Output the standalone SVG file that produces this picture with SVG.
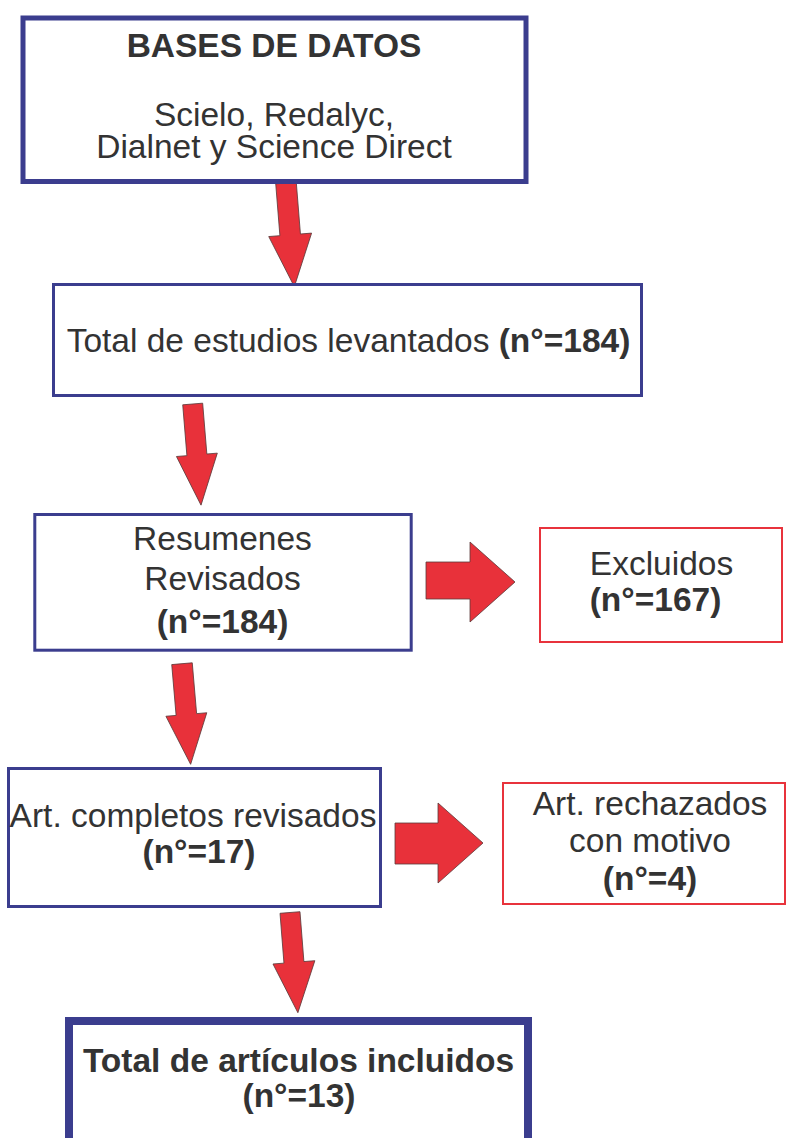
<svg xmlns="http://www.w3.org/2000/svg" width="787" height="1138" viewBox="0 0 787 1138">
<style>
.box{fill:#fff;stroke:#3b3d8e}
.rbox{fill:#fff;stroke:#e8333c;stroke-width:2}
.t{font-family:"Liberation Sans",Arial,sans-serif;font-size:33.5px;fill:#333;text-anchor:middle}
.b{font-weight:bold}
.arrow{fill:#e8313a;stroke:#5a3a3a;stroke-width:0.8;stroke-linejoin:miter}
</style>
<rect width="787" height="1138" fill="#fff"/>
<g id="connectors">
<polygon class="arrow" transform="translate(286,183) rotate(-4.6)" points="-10.3,0 10.3,0 10.3,52 21.5,52 0,104 -21.5,52 -10.3,52"/>
<polygon class="arrow" transform="translate(192.7,404) rotate(-4.7)" points="-10,0 10,0 10,51 20.5,51 0,101.5 -20.5,51 -10,51"/>
<polygon class="arrow" transform="translate(182,663.7) rotate(-4.9)" points="-10.3,0 10.3,0 10.3,51 20.5,51 0,101 -20.5,51 -10.3,51"/>
<polygon class="arrow" transform="translate(290,912.5) rotate(-4.5)" points="-10,0 10,0 10,50 21,50 0,100.5 -21,50 -10,50"/>
<polygon class="arrow" points="426,562 470,562 470,542 515,582 470,622 470,599 426,599"/>
<polygon class="arrow" points="395,823 438,823 438,803 483,843 438,883 438,864 395,864"/>
</g>
<g id="n1">
<rect class="box" x="23" y="18" width="503" height="163.5" stroke-width="5"/>
<text class="t b" x="274" y="57">BASES DE DATOS</text>
<text class="t" x="274" y="125.7">Scielo, Redalyc,</text>
<text class="t" x="274" y="158.4">Dialnet y Science Direct</text>
</g>
<g id="n2">
<rect class="box" x="53.5" y="284.5" width="588" height="111" stroke-width="3"/>
<text class="t" x="348.5" y="352">Total de estudios levantados <tspan class="b">(n°=184)</tspan></text>
</g>
<g id="n3">
<rect class="box" x="34.8" y="514.5" width="376.4" height="135.7" stroke-width="3"/>
<text class="t" x="222.5" y="550">Resumenes</text>
<text class="t" x="222.5" y="590">Revisados</text>
<text class="t b" x="222.5" y="633.3">(n°=184)</text>
</g>
<g id="n4">
<rect class="rbox" x="540" y="528" width="242" height="114"/>
<text class="t" x="661.5" y="575">Excluidos</text>
<text class="t b" x="655.5" y="610.7">(n°=167)</text>
</g>
<g id="n5">
<rect class="box" x="8.5" y="768.5" width="372" height="138" stroke-width="3"/>
<text class="t" x="193" y="827">Art. completos revisados</text>
<text class="t b" x="199" y="863">(n°=17)</text>
</g>
<g id="n6">
<rect class="rbox" x="503" y="783" width="282" height="121"/>
<text class="t" x="650" y="815">Art. rechazados</text>
<text class="t" x="650" y="852">con motivo</text>
<text class="t b" x="650" y="890">(n°=4)</text>
</g>
<g id="n7">
<rect class="box" x="69" y="1021" width="459" height="140" stroke-width="8"/>
<text class="t b" x="298.5" y="1072">Total de artículos incluidos</text>
<text class="t b" x="299" y="1107">(n°=13)</text>
</g>
</svg>
